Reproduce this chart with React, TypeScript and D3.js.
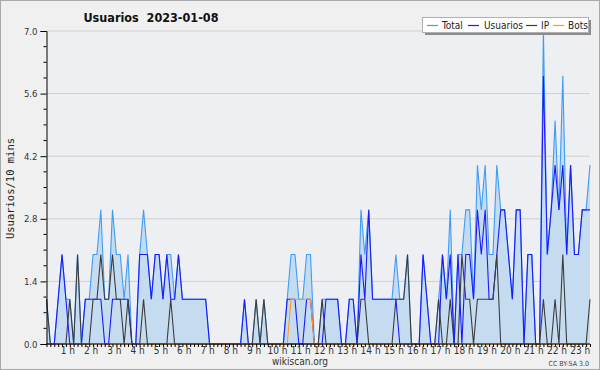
import React, { useEffect, useRef } from 'react'
import * as d3 from 'd3'

// 10-minute samples, index 0 = 00:00 (last one 23:20)
const usuarios = [
  0, 0, 0, 1, 2, 1, 0, 0, 0, 0, 1, 1,
  1, 1, 1, 0, 0, 1, 1, 1, 1, 1, 0, 0,
  2, 2, 2, 1, 2, 2, 1, 2, 1, 1, 2, 1,
  1, 1, 1, 1, 1, 1, 0, 0, 0, 0, 0, 0,
  0, 0, 0, 1, 0, 0, 0, 0, 0, 0, 0, 0,
  0, 0, 1, 1, 1, 0, 0, 1, 1, 0, 0, 0,
  1, 1, 1, 1, 0, 0, 1, 1, 0, 2, 1, 3,
  1, 1, 1, 1, 1, 1, 1, 0, 0, 0, 0, 0,
  0, 2, 1, 0, 0, 0, 2, 1, 2, 0, 2, 0,
  2, 2, 1, 3, 2, 3, 1, 1, 2, 3, 3, 2,
  1, 3, 3, 0, 2, 2, 0, 0, 6, 2, 3, 4,
  3, 4, 2, 4, 2, 2, 3, 3, 3,
]
const ip = [
  1, 0, 0, 0, 0, 0, 1, 0, 2, 0, 0, 0,
  1, 1, 2, 1, 1, 2, 1, 1, 0, 1, 0, 0,
  0, 1, 0, 0, 0, 0, 0, 0, 1, 0, 0, 0,
  0, 0, 0, 0, 0, 0, 0, 0, 0, 0, 0, 0,
  0, 0, 0, 0, 0, 0, 1, 0, 1, 0, 0, 0,
  0, 0, 0, 0, 0, 0, 0, 0, 0, 0, 0, 1,
  0, 0, 0, 0, 0, 0, 0, 0, 0, 1, 1, 0,
  0, 0, 0, 0, 0, 0, 1, 1, 1, 2, 0, 0,
  0, 0, 0, 0, 0, 1, 0, 0, 1, 0, 0, 2,
  1, 1, 0, 1, 1, 1, 1, 1, 2, 0, 0, 0,
  0, 0, 0, 0, 0, 0, 0, 0, 1, 0, 0, 1,
  0, 2, 0, 0, 0, 0, 0, 0, 1,
]
const bots = [
  0, 0, 0, 0, 0, 0, 0, 0, 0, 0, 0, 0,
  0, 0, 0, 0, 0, 0, 0, 0, 0, 0, 0, 0,
  0, 0, 0, 0, 0, 0, 0, 0, 0, 0, 0, 0,
  0, 0, 0, 0, 0, 0, 0, 0, 0, 0, 0, 0,
  0, 0, 0, 0, 0, 0, 0, 0, 0, 0, 0, 0,
  0, 0, 0, 1, 1, 1, 1, 1, 1, 0, 0, 0,
  0, 0, 0, 0, 0, 0, 0, 0, 0, 0, 0, 0,
  0, 0, 0, 0, 0, 0, 0, 0, 0, 0, 0, 0,
  0, 0, 0, 0, 0, 0, 0, 0, 0, 0, 0, 0,
  0, 0, 0, 0, 0, 0, 0, 0, 0, 0, 0, 0,
  0, 0, 0, 0, 0, 0, 0, 0, 0, 0, 0, 0,
  0, 0, 0, 0, 0, 0, 0, 0, 0,
]
const total = [
  1, 0, 0, 1, 2, 1, 1, 0, 2, 0, 1, 1,
  2, 2, 3, 1, 1, 3, 2, 2, 1, 2, 0, 0,
  2, 3, 2, 1, 2, 2, 1, 2, 2, 1, 2, 1,
  1, 1, 1, 1, 1, 1, 0, 0, 0, 0, 0, 0,
  0, 0, 0, 1, 0, 0, 1, 0, 1, 0, 0, 0,
  0, 0, 1, 2, 2, 1, 1, 2, 2, 0, 0, 1,
  1, 1, 1, 1, 0, 0, 1, 1, 0, 3, 2, 3,
  1, 1, 1, 1, 1, 1, 2, 1, 1, 2, 0, 0,
  0, 2, 1, 0, 0, 1, 2, 1, 3, 0, 2, 2,
  3, 3, 1, 4, 3, 4, 2, 2, 4, 3, 3, 2,
  1, 3, 3, 0, 2, 2, 0, 0, 7, 2, 3, 5,
  3, 6, 2, 4, 2, 2, 3, 3, 4,
]
const hourLabels = d3.range(1, 24).map(h => h + ' h')
const yTicks = [0, 1.4, 2.8, 4.2, 5.6, 7.0]
const seriesNames = ['Total', 'Usuarios', 'IP', 'Bots']
const seriesColors = ['#3f9df5', '#1a1aff', '#3c3c3c', '#ff9a1a']

const FONT = 'DejaVu Sans Condensed, DejaVu Sans, sans-serif'

function App() {
  const svgRef = useRef<SVGSVGElement>(null)

  useEffect(() => {
    document.body.style.margin = '0'
    const width = 600
    const height = 370
    const left = 46.5
    const right = 590
    const top = 31
    const bottom = 344
    const n = total.length

    const svg = d3.select(svgRef.current)
    svg.selectAll('*').remove()
    svg.attr('width', width).attr('height', height)
      .style('display', 'block')
      .style('font-family', FONT)

    svg.append('rect')
      .attr('x', 0.5).attr('y', 0.5)
      .attr('width', width - 1).attr('height', height - 1)
      .attr('fill', '#f0f0f0').attr('stroke', '#a8a8a8')

    const x = d3.scaleLinear().domain([0, n - 1]).range([left, right])
    const y = d3.scaleLinear().domain([0, 7]).range([bottom, top])

    svg.append('rect')
      .attr('x', left).attr('y', top)
      .attr('width', right - left).attr('height', bottom - top)
      .attr('fill', '#eeeff2')

    // grid
    svg.append('g').selectAll('line')
      .data(yTicks.slice(1))
      .join('line')
      .attr('x1', left).attr('x2', right)
      .attr('y1', d => y(d)).attr('y2', d => y(d))
      .attr('stroke', '#cfcfcf')

    const area = d3.area<number>()
      .x((d, i) => x(i)).y0(bottom).y1(d => y(d))
    svg.append('path').datum(total)
      .attr('d', area).attr('fill', '#c5dcf0')

    const line = d3.line<number>().x((d, i) => x(i)).y(d => y(d))
    const all = [total, usuarios, ip, bots]
    all.forEach((s, k) => {
      svg.append('path').datum(s)
        .attr('d', line)
        .attr('fill', 'none')
        .attr('stroke', seriesColors[k])
        .attr('stroke-width', 1.1)
    })

    // y axis
    const yAxis = d3.axisLeft(y).tickValues(yTicks).tickSize(6)
      .tickFormat(d3.format('.1f'))
    const gy = svg.append('g').attr('transform', `translate(${left},0)`).call(yAxis)
    gy.select('.domain').attr('stroke', '#000')
    gy.selectAll('text').attr('font-size', 9.5).attr('fill', '#333').attr('font-family', FONT)
    const minorY = d3.range(0, 7.01, 0.35).filter(v => Math.abs(v / 1.4 - Math.round(v / 1.4)) > 0.01)
    gy.selectAll('.minor').data(minorY).join('line')
      .attr('class', 'minor')
      .attr('x1', -3).attr('x2', 0)
      .attr('y1', d => y(d)).attr('y2', d => y(d))
      .attr('stroke', '#000')

    // x axis
    const xAxis = d3.axisBottom(x)
      .tickValues(d3.range(0, n))
      .tickSize(3)
      .tickFormat(() => '')
    const gx = svg.append('g').attr('transform', `translate(0,${bottom})`).call(xAxis)
    gx.select('.domain').remove()
    gx.append('line').attr('x1', left).attr('x2', right).attr('stroke', '#000')
    gx.selectAll('.lbl').data(hourLabels).join('text')
      .attr('class', 'lbl')
      .attr('x', (d, i) => x((i + 1) * 6) - 2)
      .attr('y', 10)
      .attr('text-anchor', 'middle')
      .attr('font-size', 10)
      .attr('font-family', FONT)
      .attr('fill', '#333')
      .text(d => d)

    svg.append('text')
      .attr('x', 151).attr('y', 22)
      .attr('text-anchor', 'middle')
      .attr('font-size', 12.5).attr('font-weight', 'bold')
      .attr('fill', '#111')
      .attr('xml:space', 'preserve')
      .style('white-space', 'pre')
      .text('Usuarios  2023-01-08')

    svg.append('text')
      .attr('transform', `translate(14,${(top + bottom) / 2 + 1}) rotate(-90)`)
      .attr('text-anchor', 'middle')
      .attr('font-family', 'DejaVu Sans Mono, monospace')
      .attr('font-size', 10.5)
      .attr('fill', '#222')
      .text('Usuarios/10 mins')

    svg.append('text')
      .attr('x', 300).attr('y', 365)
      .attr('text-anchor', 'middle')
      .attr('font-size', 10).attr('fill', '#333')
      .text('wikiscan.org')
    svg.append('text')
      .attr('x', 589).attr('y', 366)
      .attr('text-anchor', 'end')
      .attr('font-size', 7).attr('fill', '#444')
      .text('CC BY-SA 3.0')

    // legend
    const lg = svg.append('g').attr('transform', 'translate(422,17)')
    lg.append('rect').attr('x', 3).attr('y', 3).attr('width', 166).attr('height', 15).attr('fill', '#8c8c8c')
    lg.append('rect').attr('x', 0.5).attr('y', 0.5).attr('width', 166).attr('height', 15)
      .attr('fill', '#fff').attr('stroke', '#b0b0b0')
    const lineX = [5, 46, 104, 131]
    const textX = [20, 62, 119, 146]
    seriesNames.forEach((name, k) => {
      lg.append('line')
        .attr('x1', lineX[k]).attr('x2', lineX[k] + 11)
        .attr('y1', 8.5).attr('y2', 8.5)
        .attr('stroke', seriesColors[k]).attr('stroke-width', 1.2)
      lg.append('text')
        .attr('x', textX[k]).attr('y', 12)
        .attr('font-size', 10).attr('fill', '#222')
        .text(name)
    })
  }, [])

  return <svg ref={svgRef}></svg>
}

export default App
